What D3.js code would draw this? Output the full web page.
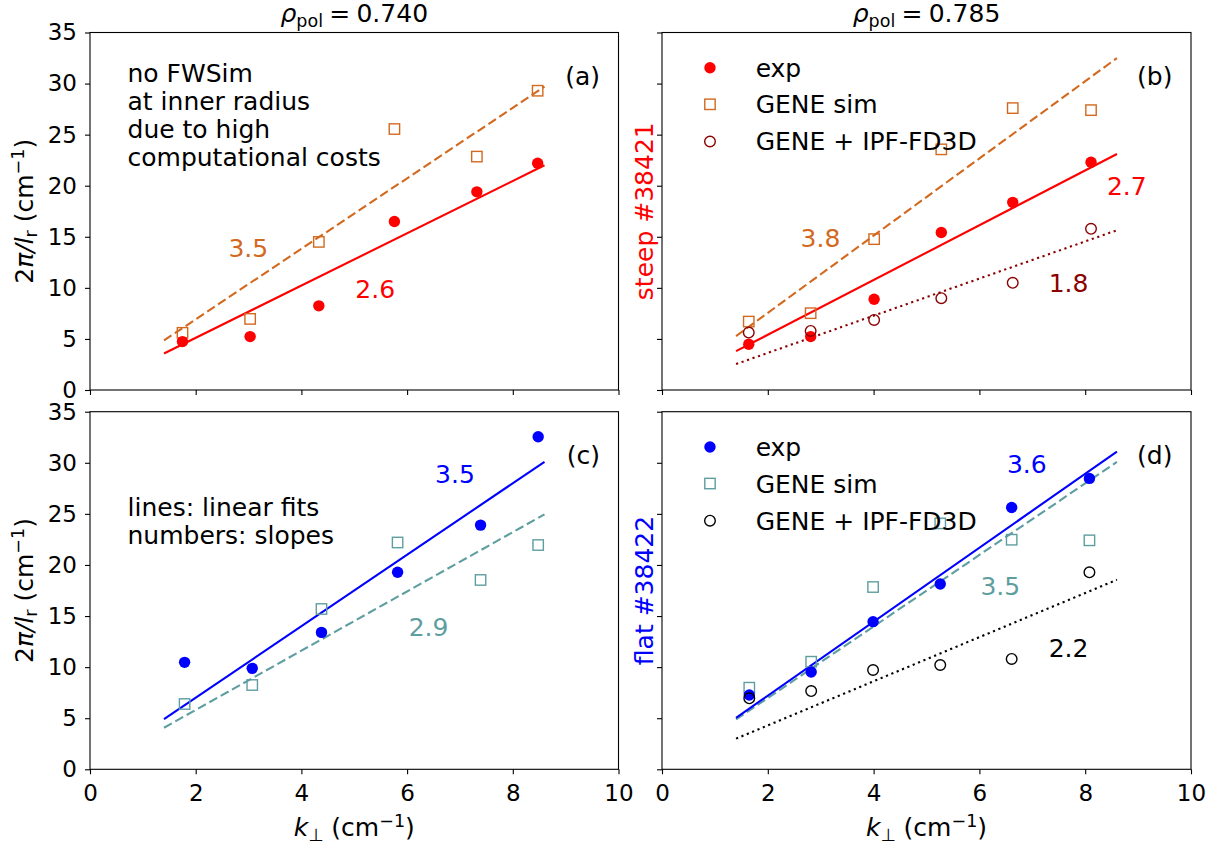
<!DOCTYPE html>
<html>
<head>
<meta charset="utf-8">
<script src="https://cdn.jsdelivr.net/npm/d3@7"></script>
<style>
  body { margin: 0; background: #fff; }
  text { font-family: "DejaVu Sans", sans-serif; }
</style>
</head>
<body>
<div id="chart"></div>
<script>
// ---- values ----
const xTicks = [0, 2, 4, 6, 8, 10];
const yTicks = [0, 5, 10, 15, 20, 25, 30, 35];
const fitX = [1.4, 8.6];

// (a) rho_pol = 0.740, steep #38421
const kA = [1.75, 3.03, 4.33, 5.76, 7.32, 8.47];
const expA = [4.74, 5.23, 8.24, 16.5, 19.4, 22.2];
const expErrA = [0, 0.5, 0, 0, 0, 0];
const simA = [5.6, 6.96, 14.5, 25.55, 22.85, 29.3];
const fitExpA = [3.57, 22.0];
const fitSimA = [4.85, 29.7];

// (b) rho_pol = 0.785, steep #38421
const kB = [1.64, 2.81, 4.01, 5.28, 6.63, 8.11];
const expB = [4.48, 5.23, 8.89, 15.42, 18.37, 22.29];
const simB = [6.7, 7.52, 14.77, 23.56, 27.6, 27.4];
const ipfB = [5.62, 5.78, 6.86, 8.99, 10.49, 15.78];
const fitExpB = [3.8, 23.1];
const fitSimB = [5.28, 32.5];
const fitIpfB = [2.54, 15.64];

// (c) rho_pol = 0.740, flat #38422
const kC = [1.79, 3.07, 4.38, 5.82, 7.39, 8.48];
const expC = [10.47, 9.88, 13.4, 19.28, 23.9, 32.55];
const simC = [6.39, 8.25, 15.69, 22.2, 18.53, 21.95];
const fitExpC = [4.9, 30.1];
const fitSimC = [4.07, 24.95];

// (d) rho_pol = 0.785, flat #38422
const kD = [1.65, 2.82, 3.99, 5.26, 6.61, 8.08];
const expD = [7.27, 9.52, 14.45, 18.13, 25.63, 28.47];
const simD = [7.99, 10.53, 17.84, 24.07, 22.47, 22.41];
const ipfD = [6.95, 7.66, 9.72, 10.21, 10.8, 19.28];
const fitExpD = [5.04, 31.1];
const fitSimD = [4.88, 30.08];
const fitIpfD = [3.0, 18.55];

const slopesA = ["2.6", "3.5"];
const slopesB = ["2.7", "3.8", "1.8"];
const slopesC = ["3.5", "2.9"];
const slopesD = ["3.6", "3.5", "2.2"];

const legendNames = ["exp", "GENE sim", "GENE + IPF-FD3D"];
const rhoPol = ["0.740", "0.785"];

// ---- colours ----
const RED = "#ff0000", ORANGE = "#d2691e", DARKRED = "#8b0000";
const BLUE = "#0000ff", TEAL = "#5f9ea0", BLACK = "#000000";

const FS = 25; // text size
const TICK_FS = 23;

const svg = d3.select("#chart").append("svg")
  .attr("width", 1218).attr("height", 845);

const cols = [{ left: 90, right: 618.5 }, { left: 662, right: 1191 }];
const rows = [{ top: 32.5, bottom: 390 }, { top: 411.7, bottom: 769.3 }];

const panels = [
  {
    col: 0, row: 0, tag: "(a)", xLabels: false, yLabels: true,
    series: [
      { k: kA, v: simA, color: ORANGE, marker: "square", fit: fitSimA, dash: "dash" },
      { k: kA, v: expA, err: expErrA, color: RED, marker: "disc", fit: fitExpA, dash: "solid" },
    ],
    notes: [
      { text: slopesA[1], x: 2.62, y: 13.06, color: ORANGE },
      { text: slopesA[0], x: 5.02, y: 9.04, color: RED },
    ],
    block: { lines: ["no FWSim", "at inner radius", "due to high", "computational costs"], x: 0.71, y: 30.2 },
  },
  {
    col: 1, row: 0, tag: "(b)", xLabels: false, yLabels: false,
    series: [
      { k: kB, v: simB, color: ORANGE, marker: "square", fit: fitSimB, dash: "dash" },
      { k: kB, v: expB, color: RED, marker: "disc", fit: fitExpB, dash: "solid" },
      { k: kB, v: ipfB, color: DARKRED, marker: "ring", fit: fitIpfB, dash: "dot" },
    ],
    notes: [
      { text: slopesB[1], x: 2.62, y: 14.04, color: ORANGE },
      { text: slopesB[0], x: 8.41, y: 19.1, color: RED },
      { text: slopesB[2], x: 7.31, y: 9.57, color: DARKRED },
    ],
    legend: [
      { marker: "disc", color: RED },
      { marker: "square", color: ORANGE },
      { marker: "ring", color: DARKRED },
    ],
    side: { text: "steep #38421", color: RED },
  },
  {
    col: 0, row: 1, tag: "(c)", xLabels: true, yLabels: true,
    series: [
      { k: kC, v: simC, color: TEAL, marker: "square", fit: fitSimC, dash: "dash" },
      { k: kC, v: expC, color: BLUE, marker: "disc", fit: fitExpC, dash: "solid" },
    ],
    notes: [
      { text: slopesC[0], x: 6.53, y: 27.98, color: BLUE },
      { text: slopesC[1], x: 6.03, y: 13.05, color: TEAL },
    ],
    block: { lines: ["lines: linear fits", "numbers: slopes"], x: 0.71, y: 24.8 },
  },
  {
    col: 1, row: 1, tag: "(d)", xLabels: true, yLabels: false,
    series: [
      { k: kD, v: simD, color: TEAL, marker: "square", fit: fitSimD, dash: "dash" },
      { k: kD, v: expD, color: BLUE, marker: "disc", fit: fitExpD, dash: "solid" },
      { k: kD, v: ipfD, color: BLACK, marker: "ring", fit: fitIpfD, dash: "dot" },
    ],
    notes: [
      { text: slopesD[0], x: 6.52, y: 29.0, color: BLUE },
      { text: slopesD[1], x: 6.02, y: 17.06, color: TEAL },
      { text: slopesD[2], x: 7.31, y: 11.02, color: BLACK },
    ],
    legend: [
      { marker: "disc", color: BLUE },
      { marker: "square", color: TEAL },
      { marker: "ring", color: BLACK },
    ],
    side: { text: "flat #38422", color: BLUE },
  },
];

const dashes = { solid: null, dash: "9,4", dot: "2.2,3.6" };

function drawMarker(g, marker, color, cx, cy) {
  if (marker === "disc") {
    g.append("circle").attr("cx", cx).attr("cy", cy).attr("r", 5.7).attr("fill", color);
  } else if (marker === "square") {
    g.append("rect").attr("x", cx - 5.2).attr("y", cy - 5.2).attr("width", 10.4).attr("height", 10.4)
      .attr("fill", "none").attr("stroke", color).attr("stroke-width", 1.4);
  } else {
    g.append("circle").attr("cx", cx).attr("cy", cy).attr("r", 5.3)
      .attr("fill", "none").attr("stroke", color).attr("stroke-width", 1.4);
  }
}

// centre a multi-tspan text on cx by measuring it (anchor "start")
function centreOn(t, cx) {
  const w = t.node().getComputedTextLength();
  t.attr("x", cx - w / 2);
}

panels.forEach((p) => {
  const c = cols[p.col], r = rows[p.row];
  const x = d3.scaleLinear().domain([0, 10]).range([c.left, c.right]);
  const y = d3.scaleLinear().domain([0, 35]).range([r.bottom, r.top]);
  const g = svg.append("g");

  // axes
  const xAxis = d3.axisBottom(x).tickValues(xTicks).tickSize(5).tickSizeOuter(0).tickPadding(10);
  if (!p.xLabels) xAxis.tickFormat("");
  const gx = g.append("g").attr("transform", `translate(0,${r.bottom})`).call(xAxis);
  const yAxis = d3.axisLeft(y).tickValues(yTicks).tickSize(5).tickSizeOuter(0).tickPadding(8);
  if (!p.yLabels) yAxis.tickFormat("");
  const gy = g.append("g").attr("transform", `translate(${c.left},0)`).call(yAxis);
  [gx, gy].forEach((a) => {
    a.select(".domain").remove();
    a.attr("font-family", "DejaVu Sans").attr("font-size", TICK_FS);
    a.selectAll("line").attr("stroke-width", 1.1);
    a.selectAll("text").attr("fill", "#000");
  });

  // frame
  g.append("rect")
    .attr("x", c.left).attr("y", r.top)
    .attr("width", c.right - c.left).attr("height", r.bottom - r.top)
    .attr("fill", "none").attr("stroke", "#000").attr("stroke-width", 1.1);

  // fit lines
  const line = d3.line().x((d) => x(d[0])).y((d) => y(d[1]));
  p.series.forEach((s) => {
    g.append("path")
      .datum(fitX.map((fx, i) => [fx, s.fit[i]]))
      .attr("d", line)
      .attr("fill", "none")
      .attr("stroke", s.color)
      .attr("stroke-width", 2.1)
      .attr("stroke-dasharray", dashes[s.dash]);
  });

  // points
  p.series.forEach((s) => {
    s.k.forEach((k, i) => {
      if (s.err && s.err[i] > 0) {
        g.append("line")
          .attr("x1", x(k)).attr("x2", x(k))
          .attr("y1", y(s.v[i] - s.err[i])).attr("y2", y(s.v[i] + s.err[i]))
          .attr("stroke", s.color).attr("stroke-width", 1.5);
      }
      drawMarker(g, s.marker, s.color, x(k), y(s.v[i]));
    });
  });

  // slope numbers
  p.notes.forEach((n) => {
    g.append("text")
      .attr("x", x(n.x)).attr("y", y(n.y))
      .attr("font-size", FS).attr("fill", n.color)
      .text(n.text);
  });

  // panel tag
  g.append("text")
    .attr("x", x(9.65)).attr("y", y(29.85))
    .attr("text-anchor", "end").attr("font-size", FS)
    .text(p.tag);

  // text block
  if (p.block) {
    const t = g.append("text")
      .attr("x", x(p.block.x)).attr("y", y(p.block.y))
      .attr("font-size", FS);
    p.block.lines.forEach((l, i) => {
      t.append("tspan").attr("x", x(p.block.x)).attr("dy", i === 0 ? 0 : 28.2).text(l);
    });
  }

  // legend
  if (p.legend) {
    const ly = [31.55, 27.97, 24.33];
    p.legend.forEach((item, i) => {
      drawMarker(g, item.marker, item.color, x(0.907), y(ly[i]));
      g.append("text")
        .attr("x", x(1.77)).attr("y", y(ly[i]))
        .attr("dy", "0.36em")
        .attr("font-size", FS)
        .text(legendNames[i]);
    });
  }

  // y label (left column) / shot label (right column)
  const cy = (r.top + r.bottom) / 2;
  if (p.col === 0) {
    const t = g.append("text")
      .attr("transform", `translate(33,${cy}) rotate(-90)`)
      .attr("font-size", FS);
    t.append("tspan").text("2");
    t.append("tspan").attr("font-style", "italic").text("π/l");
    t.append("tspan").attr("font-size", FS * 0.7).attr("dy", 4).text("r");
    t.append("tspan").attr("dy", -4).text(" (cm");
    t.append("tspan").attr("font-size", FS * 0.7).attr("dy", -9).text("−1");
    t.append("tspan").attr("dy", 9).text(")");
    centreOn(t, 0);
  } else {
    g.append("text")
      .attr("transform", `translate(653,${cy}) rotate(-90)`)
      .attr("text-anchor", "middle").attr("font-size", FS)
      .attr("fill", p.side.color)
      .text(p.side.text);
  }

  // title on top row, x label on bottom row
  const cx = (c.left + c.right) / 2;
  if (p.row === 0) {
    const t = g.append("text")
      .attr("y", 22).attr("font-size", FS);
    t.append("tspan").attr("font-style", "italic").text("ρ");
    t.append("tspan").attr("font-size", FS * 0.7).attr("dy", 5).text("pol");
    t.append("tspan").attr("dy", -5).text("\u2005=\u2005" + rhoPol[p.col]);
    centreOn(t, cx);
  } else {
    const t = g.append("text")
      .attr("y", 836).attr("font-size", FS);
    t.append("tspan").attr("font-style", "italic").text("k");
    t.append("tspan").attr("font-size", FS * 0.7).attr("dy", 5).text("⊥");
    t.append("tspan").attr("dy", -5).text(" (cm");
    t.append("tspan").attr("font-size", FS * 0.7).attr("dy", -9).text("−1");
    t.append("tspan").attr("dy", 9).text(")");
    centreOn(t, cx);
  }
});
</script>
</body>
</html>
